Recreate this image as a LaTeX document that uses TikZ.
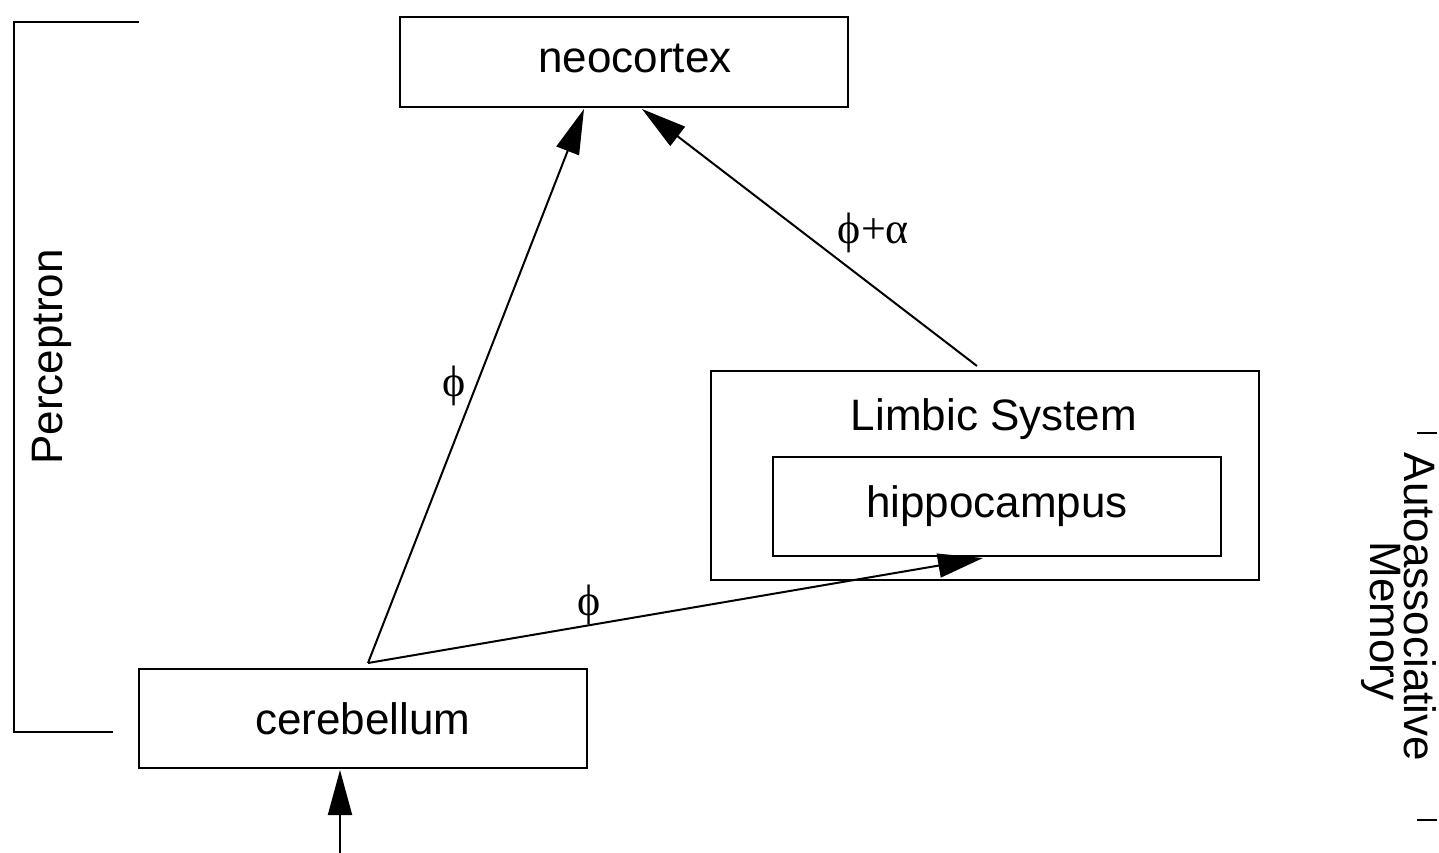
\documentclass[tikz,border=0pt]{standalone}
\usepackage{fontspec}
\setmainfont{Liberation Sans}
\newfontfamily\greekfont{Liberation Serif}
\usetikzlibrary{arrows.meta}
\begin{document}
\begin{tikzpicture}[x=1pt,y=-1pt,
  every node/.style={font=\fontsize{44}{52}\selectfont},
  boxnode/.style={draw,line width=2pt,minimum width=448pt,inner sep=0pt},
  conn/.style={line width=2pt,-{Triangle[length=45pt,width=24pt]}},
  plain/.style={line width=2pt},
  lbl/.style={font=\fontsize{44}{52}\greekfont}]
\useasboundingbox (0,0) rectangle (1439,853);
\node[boxnode,minimum height=90pt] (neo) at (624,62) {};
\node[anchor=base] (neotext) at (635,73) {neocortex};
\node[boxnode,minimum width=548pt,minimum height=209pt] (limbic) at (985,475.5) {};
\node (limbictext) at (994,419) {Limbic System};
\node[boxnode,minimum height=99pt] (hippo) at (997,506.5) {hippocampus};
\node[boxnode,minimum height=99pt] (cer) at (363,718.5) {cerebellum};
\coordinate (src) at (368,663);
\coordinate (neoL) at (584,109);
\coordinate (neoR) at (642,109);
\coordinate (hipB) at (983,558);
\coordinate (limT) at (977,366);
\coordinate (inp) at (340,853);
\coordinate (cerB) at (340,770);
\draw[conn] (src) -- node[lbl,pos=0.5,left=6pt] {ϕ} (neoL);
\draw[conn] (src) -- node[lbl,pos=0.36,yshift=20pt] {ϕ} (hipB);
\draw[conn] (limT) -- node[lbl,pos=0.5,xshift=64pt,yshift=5pt] {ϕ+α} (neoR);
\draw[conn] (inp) -- (cerB);
% Perceptron bracket
\coordinate (pt1) at (139,22);
\coordinate (pt2) at (14,22);
\coordinate (pt3) at (14,732);
\coordinate (pt4) at (113,732);
\draw[plain] (pt1) -- (pt2) -- (pt3) -- (pt4);
\node[rotate=90] (perc) at (52,357) {Perceptron};
% Autoassociative memory
\coordinate (a1) at (1417,433);
\coordinate (a2) at (1437,433);
\coordinate (b1) at (1417,820);
\coordinate (b2) at (1437,820);
\draw[plain] (a1) -- (a2);
\draw[plain] (b1) -- (b2);
\node[rotate=-90,anchor=base] (auto1) at (1404,607) {Autoassociative};
\node[rotate=-90,anchor=base] (auto2) at (1370,621) {Memory};
\end{tikzpicture}
\end{document}
